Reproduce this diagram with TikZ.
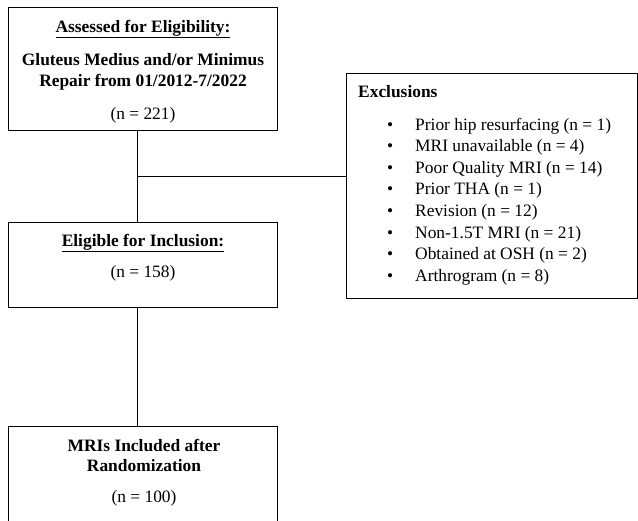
\documentclass[tikz,border=0pt]{standalone}
\usepackage{fontspec}
\setmainfont{Liberation Serif}
\usetikzlibrary{positioning}

\tikzset{
	box/.style={draw, line width=1pt, minimum width=269pt, inner sep=0pt},
	boxtext/.style={align=center, inner sep=0pt, font=\fontsize{17.4}{21.5}\selectfont},
	link/.style={line width=1pt},
}

\begin{document}
\begin{tikzpicture}[x=1pt, y=-1pt]
	\useasboundingbox (0,0) rectangle (638,521);
	\clip (0,0) rectangle (638,521);

	% Boxes on the left
	\node[box, minimum height=123pt] (assessed) at (142.5,69.5) {};
	\node[box, minimum height=85pt] (eligible) at (142.5,265.5) {};
	\node[box, minimum height=113pt] (included) at (142.5,483.5) {};

	% Exclusions box
	\node[box, minimum width=291pt, minimum height=225pt] (exclusions) at (491.5,186.5) {};

	% Texts in the boxes
	\node[boxtext] (assessedtext) at (143,71.5) {\underline{\textbf{Assessed for Eligibility:}}\\[11.5pt]\textbf{Gluteus Medius and/or Minimus}\\\textbf{Repair from 01/2012-7/2022}\\[11.5pt](n = 221)};
	\node[boxtext] (eligibletext) at (143,257.5) {\underline{\textbf{Eligible for Inclusion:}}\\[9.5pt](n = 158)};
	\node[boxtext] (includedtext) at (144,472.5) {\textbf{MRIs Included after}\\[-1.5pt]\textbf{Randomization}\\[9.5pt](n = 100)};

	% Exclusion list
	\node[boxtext, anchor=west] (exclusionstitle) at (358,92) {\textbf{Exclusions}};
	\foreach \txt [count=\i] in {Prior hip resurfacing (n = 1), MRI unavailable (n = 4), Poor Quality MRI (n = 14), Prior THA (n = 1), Revision (n = 12), Non-1.5T MRI (n = 21), Obtained at OSH (n = 2), Arthrogram (n = 8)}
		\node[boxtext, anchor=west] (item\i) at (387,104.4+21.6*\i) {\makebox[28pt][l]{\textbullet}\txt};

	% Connectors
	\coordinate (branch) at (137,177);
	\draw[link] ([xshift=-5.5pt]assessed.south) -- ([xshift=-5.5pt]eligible.north);
	\draw[link] (branch) -- (branch -| exclusions.west);
	\draw[link] ([xshift=-5.5pt]eligible.south) -- ([xshift=-5.5pt]included.north);
\end{tikzpicture}
\end{document}
